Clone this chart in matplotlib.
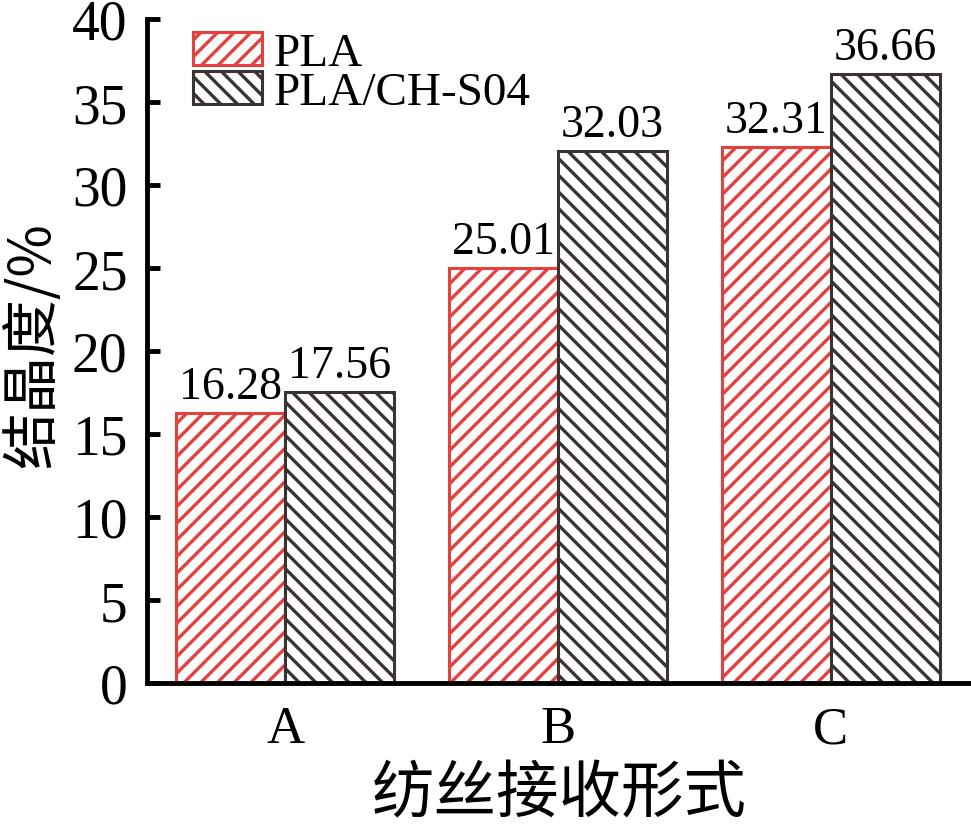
import numpy as np
import matplotlib
matplotlib.use('Agg')
from matplotlib import pyplot as plt

# Data
groups = ['A', 'B', 'C']
series = ['PLA', 'PLA/CH-S04']
pla = [16.28, 25.01, 32.31]
pla_ch = [17.56, 32.03, 36.66]
yticks = [0, 5, 10, 15, 20, 25, 30, 35, 40]

plt.rcParams['font.family'] = ['Liberation Serif', 'Noto Sans CJK SC']
plt.rcParams['hatch.linewidth'] = 2.4

red = '#e4403d'
dark = '#3b3331'

fig = plt.figure(figsize=(9.71, 8.28), dpi=100)
ax = fig.add_axes([147/971, 1 - 684/828, 1 - 147/971, (684 - 20)/828])

x = np.arange(len(groups))
w = 0.4
b1 = ax.bar(x - w/2, pla, w, facecolor='white', edgecolor=red, hatch='//',
            linewidth=2.2, label=series[0])
b2 = ax.bar(x + w/2, pla_ch, w, facecolor='white', edgecolor=dark, hatch='\\\\',
            linewidth=2.2, label=series[1])

for bars, vals in ((b1, pla), (b2, pla_ch)):
    for r, v in zip(bars, vals):
        ax.text(r.get_x() + r.get_width()/2, v + 0.3, f'{v:.2f}',
                ha='center', va='bottom', fontsize=33)

ax.set_xlim(-0.507, 2.515)
ax.set_ylim(0, 40)
ax.set_yticks(yticks)
ax.set_xticks(x)
ax.set_xticklabels(groups)

for s in ('top', 'right'):
    ax.spines[s].set_visible(False)
for s in ('left', 'bottom'):
    ax.spines[s].set_linewidth(3.5)

ax.tick_params(axis='y', direction='in', length=9, width=3.5, labelsize=40, pad=14)
ax.tick_params(axis='x', length=0, labelsize=38, pad=16)

ax.set_ylabel('结晶度/%', fontsize=41, family=['Noto Sans CJK SC', 'Liberation Serif'])
ax.yaxis.set_label_coords(-0.103, 0.51)
ax.set_xlabel('纺丝接收形式', fontsize=45, family=['Noto Sans CJK SC'], labelpad=6)

ax.legend(loc='upper left', bbox_to_anchor=(0.056, 0.98), frameon=False,
          fontsize=34, borderpad=0, borderaxespad=0, handlelength=1.46,
          handleheight=0.7, handletextpad=0.24, labelspacing=-0.1)

fig.savefig('out.png', dpi=100)
